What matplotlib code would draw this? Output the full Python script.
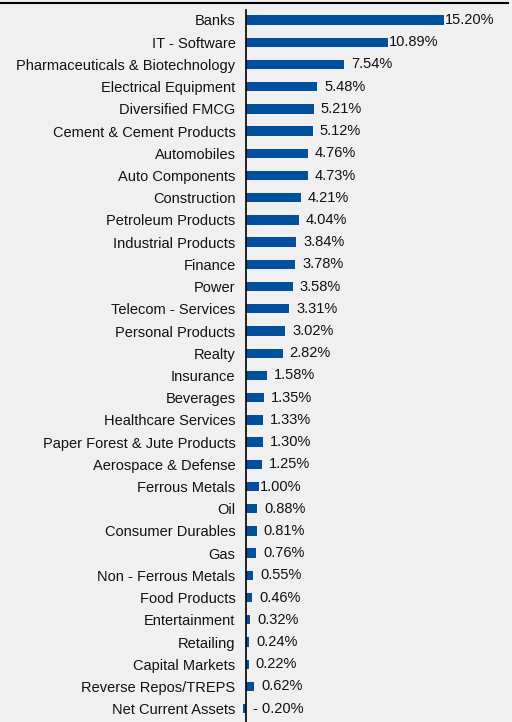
import matplotlib.pyplot as plt
from matplotlib.lines import Line2D
from matplotlib.transforms import offset_copy

plt.rcParams['font.family'] = ['Liberation Sans', 'DejaVu Sans']

sectors = [
    "Banks", "IT - Software", "Pharmaceuticals & Biotechnology",
    "Electrical Equipment", "Diversified FMCG", "Cement & Cement Products",
    "Automobiles", "Auto Components", "Construction", "Petroleum Products",
    "Industrial Products", "Finance", "Power", "Telecom - Services",
    "Personal Products", "Realty", "Insurance", "Beverages",
    "Healthcare Services", "Paper Forest & Jute Products",
    "Aerospace & Defense", "Ferrous Metals", "Oil", "Consumer Durables",
    "Gas", "Non - Ferrous Metals", "Food Products", "Entertainment",
    "Retailing", "Capital Markets", "Reverse Repos/TREPS", "Net Current Assets",
]
weights = [
    15.20, 10.89, 7.54, 5.48, 5.21, 5.12, 4.76, 4.73, 4.21, 4.04, 3.84,
    3.78, 3.58, 3.31, 3.02, 2.82, 1.58, 1.35, 1.33, 1.30, 1.25, 1.00,
    0.88, 0.81, 0.76, 0.55, 0.46, 0.32, 0.24, 0.22, 0.62, -0.20,
]
# labels drawn flush against the bar end
tight_labels = {"Banks", "IT - Software", "Ferrous Metals"}

BG = '#f0f0f0'
BAR = '#00509e'
FS = 10.5

fig = plt.figure(figsize=(5.12, 7.22), dpi=100, facecolor=BG)
W, H = 512, 722
ax = fig.add_axes([240 / W, 0, 260 / W, 712 / H], facecolor=BG)

ypos = list(range(len(sectors)))
ax.barh(ypos, weights, height=0.42, color=BAR, zorder=2)

ax.set_xlim(-0.46, 19.5)
ax.set_ylim(31.6, -0.45)

for name, y, v in zip(sectors, ypos, weights):
    dx = 1.0 if name in tight_labels else 7
    x0 = max(v, 0)
    trans = offset_copy(ax.transData, fig=fig, x=dx * 0.72, y=0, units='points')
    txt = f"- {abs(v):.2f}%" if v < 0 else f"{v:.2f}%"
    ax.text(x0, y, txt, transform=trans, ha='left', va='center',
            fontsize=FS, color='#111111')

ax.set_yticks(ypos, sectors)
ax.tick_params(axis='y', length=0, pad=7.5, labelsize=FS, labelcolor='#111111')
ax.set_xticks([])

for s in ['top', 'right', 'bottom']:
    ax.spines[s].set_visible(False)
ax.spines['left'].set_position(('data', 0))
ax.spines['left'].set_linewidth(1.2)
ax.spines['left'].set_color('black')
ax.spines['left'].set_zorder(3)

# rule along the top of the panel
fig.add_artist(Line2D([0, 508 / W], [1 - 2.5 / H, 1 - 2.5 / H],
                      transform=fig.transFigure, color='black', linewidth=1.5))

fig.savefig('out.png', dpi=100, facecolor=BG)
